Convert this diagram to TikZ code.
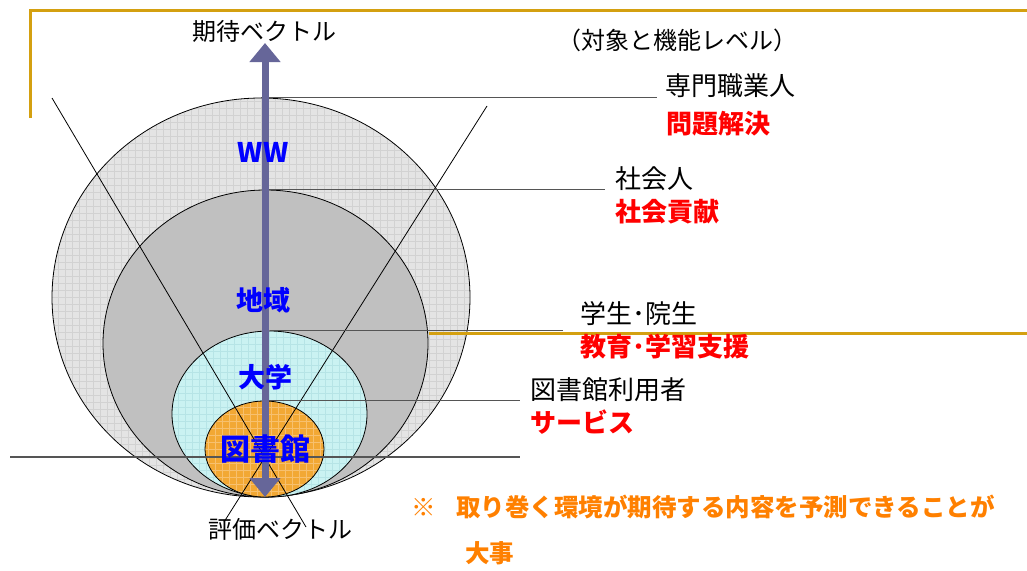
\documentclass[tikz,border=0pt]{standalone}
\usepackage{fontspec}
\newfontfamily\jp{Noto Sans CJK JP}
\usetikzlibrary{shapes.geometric,arrows.meta}
\definecolor{gold}{RGB}{212,160,16}
\definecolor{arrowcol}{RGB}{102,102,153}
\definecolor{bluetxt}{RGB}{0,0,255}
\definecolor{redtxt}{RGB}{255,0,0}
\definecolor{notetxt}{RGB}{255,128,0}
\definecolor{leadcol}{RGB}{85,85,85}
\definecolor{fillA}{RGB}{228,228,228}
\definecolor{gridA}{RGB}{210,210,210}
\definecolor{fillB}{RGB}{192,192,192}
\definecolor{fillC}{RGB}{202,242,242}
\definecolor{gridC}{RGB}{182,228,230}
\definecolor{fillD}{RGB}{242,168,52}
\definecolor{gridD}{RGB}{247,192,110}
\newcommand{\myfs}[1]{\fontsize{#1}{#1}\selectfont}
\tikzset{
  ring/.style={ellipse, draw=black, line width=0.8pt, inner sep=0pt},
  gridfill/.style={path picture={\draw[#1, line width=0.5pt, step=7pt]
      (path picture bounding box.south west) grid (path picture bounding box.north east);}},
  lead/.style={draw=leadcol, line width=1.3pt},
  diag/.style={draw=black, line width=0.8pt},
  frame/.style={draw=gold, line width=3pt},
  vec/.style={draw=arrowcol, line width=7pt,
     {Triangle[width=30pt,length=19pt]}-{Triangle[width=30pt,length=19pt]}},
  blk/.style={font=\jp\myfs{24}, text=black, inner sep=0pt},
  lab/.style={font=\jp\myfs{26}, text=black, inner sep=0pt, anchor=west},
  redlab/.style={font=\jp\bfseries\myfs{26}, text=redtxt, inner sep=0pt, anchor=west},
  bluelab/.style={font=\jp\bfseries\myfs{27}, text=bluetxt, inner sep=0pt},
  notelab/.style={font=\jp\bfseries\myfs{24.5}, text=notetxt, inner sep=0pt, anchor=west}
}
\begin{document}
\begin{tikzpicture}[x=1pt,y=-1pt]
\useasboundingbox (0,0) rectangle (1027,570);
% slide frame lines
\coordinate (f1) at (30,118);
\coordinate (f2) at (30,10);
\coordinate (f3) at (1027,10);
\draw[frame] (f1) -- (f2) -- (f3);
% ellipses
\node[ring, fill=fillA, gridfill=gridA, minimum width=418pt, minimum height=399pt] (e1) at (261,297.5) {};
\coordinate (o1) at (429,333);
\coordinate (o2) at (1027,333);
\draw[frame] (o1) -- (o2);
\node[ring, fill=fillB, minimum width=325pt, minimum height=307pt] (e2) at (265.5,343.5) {};
\node[ring, fill=fillC, gridfill=gridC, minimum width=195pt, minimum height=166pt] (e3) at (269.5,414) {};
\node[ring, fill=fillD, gridfill=gridD, minimum width=119pt, minimum height=96pt] (e4) at (264.5,449) {};
% diagonal lines
\coordinate (dl1) at (52,98);
\coordinate (dl2) at (306,527);
\coordinate (dr1) at (487,106);
\coordinate (dr2) at (224,522);
\draw[diag] (dl1) -- (dl2);
\draw[diag] (dr1) -- (dr2);
% horizontal base line
\coordinate (h1) at (10,457);
\coordinate (h2) at (520,457);
\draw[lead] (h1) -- (h2);
% labels
\node[lab] (l1) at (665,86) {専門職業人};
\node[redlab] (r1) at (666,124) {問題解決};
\node[lab] (l2) at (615,179) {社会人};
\node[redlab] (r2) at (615,212) {社会貢献};
\node[lab] (l3) at (580,314) {学生･院生};
\node[redlab] (r3) at (580,347) {教育･学習支援};
\node[lab] (l4) at (530,390) {図書館利用者};
\node[redlab] (r4) at (530,422) {サービス};
% leader lines
\draw[lead] (e1.north) -- ([xshift=-8pt]e1.north -| l1.west);
\draw[lead] (e2.north) -- ([xshift=-10pt]e2.north -| l2.west);
\draw[lead] (e3.north) -- ([xshift=-17pt]e3.north -| l3.west);
\draw[lead] (e4.north) -- ([xshift=-10pt]e4.north -| l4.west);
% vector arrow
\coordinate (vb) at (265,497);
\coordinate (vt) at (265,43);
\draw[vec] (vb) -- (vt);
% titles
\node[blk] (t1) at (264,31) {期待ベクトル};
\node[blk] (t2) at (280,529) {評価ベクトル};
\node[blk] (t3) at (677,40) {（対象と機能レベル）};
% blue labels
\node[bluelab] (b1) at (263,152) {WW};
\node[bluelab] (b2) at (263,300) {地域};
\node[bluelab] (b3) at (265,377) {大学};
\node[bluelab, font=\jp\bfseries\myfs{30}] (b4) at (265,449) {図書館};
% note
\node[notelab] (n0) at (411,507) {※};
\node[notelab] (n1) at (456,507) {取り巻く環境が期待する内容を予測できることが};
\node[notelab] (n2) at (465,553) {大事};
\end{tikzpicture}
\end{document}
